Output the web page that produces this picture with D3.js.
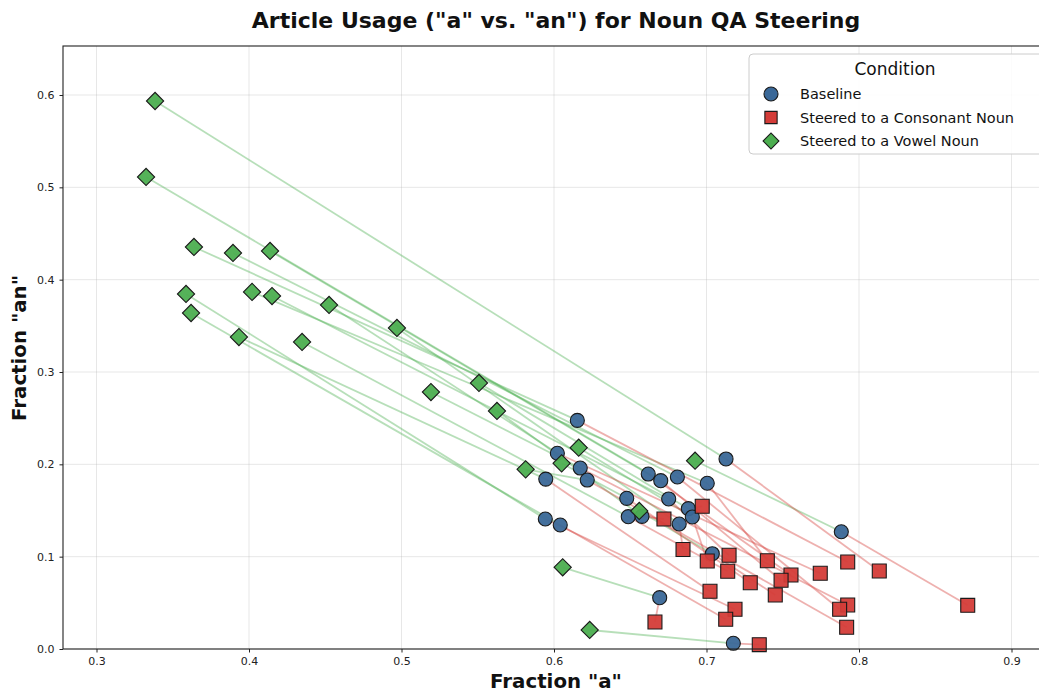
<!DOCTYPE html>
<html>
<head>
<meta charset="utf-8">
<script src="https://cdn.jsdelivr.net/npm/d3@7"></script>
<style>
  html, body { margin: 0; padding: 0; background: #fff; }
  svg { display: block; font-family: "DejaVu Sans", sans-serif; }
</style>
</head>
<body>
<svg id="chart" width="1039" height="692"></svg>
<script>
// ---- Data (one entry per noun) ----
const baselineA   = [0.6153,0.6022,0.7128,0.6172,0.5946,0.6218,0.6618,0.6700,0.6809,0.7005,0.6752,0.6477,0.6881,0.6907,0.6487,0.6577,0.6821,0.5943,0.6041,0.7038,0.6693,0.7176,0.7884];
const baselineAn  = [0.2476,0.2120,0.2058,0.1960,0.1840,0.1830,0.1895,0.1823,0.1863,0.1795,0.1625,0.1632,0.1520,0.1430,0.1433,0.1437,0.1354,0.1408,0.1343,0.1032,0.0556,0.0062,0.1270];
const consonantA  = [0.7926,0.7746,0.8133,0.7926,0.7023,0.7919,0.7554,0.7489,0.7873,0.7399,0.7148,0.7287,0.6972,0.7005,0.7139,0.6721,0.6846,0.7187,0.7126,0.7451,0.6662,0.7346,0.8713];
const consonantAn = [0.0942,0.0820,0.0845,0.0477,0.0625,0.0235,0.0801,0.0744,0.0430,0.0956,0.1015,0.0718,0.1546,0.0953,0.0842,0.1408,0.1078,0.0430,0.0322,0.0585,0.0292,0.0047,0.0473];
const vowelA      = [0.3639,0.4525,0.3384,0.5193,0.3934,0.5814,0.4138,0.3325,0.3895,0.4020,0.4151,0.6050,0.5508,0.6162,0.4348,0.5626,0.4970,0.3587,0.3620,0.6559,0.6057,0.6234,0.6925];
const vowelAn     = [0.4354,0.3726,0.5935,0.2783,0.3379,0.1946,0.4311,0.5112,0.4289,0.3867,0.3823,0.2011,0.2881,0.2180,0.3325,0.2578,0.3477,0.3845,0.3639,0.1495,0.0885,0.0206,0.2039];

const xTicks = [0.3,0.4,0.5,0.6,0.7,0.8,0.9];
const yTicks = [0.0,0.1,0.2,0.3,0.4,0.5,0.6];
const conditions = ["Baseline","Steered to a Consonant Noun","Steered to a Vowel Noun"];
const titleText = 'Article Usage ("a" vs. "an") for Noun QA Steering';
const xLabel = 'Fraction "a"';
const yLabel = 'Fraction "an"';

// ---- Layout ----
const svg = d3.select("#chart");
const plot = {left: 63, top: 46, right: 1046, bottom: 649};
const x = d3.scaleLinear().domain([0.3, 0.9]).range([96.5, 1011.5]);
const y = d3.scaleLinear().domain([0.0, 0.6]).range([649, 95]);

const colBlue = "#3a6898", colRed = "#d43c38", colGreen = "#4cae50";

// grid
const grid = svg.append("g");
xTicks.forEach(t => grid.append("line")
  .attr("x1", x(t)).attr("x2", x(t)).attr("y1", plot.top).attr("y2", plot.bottom)
  .attr("stroke", "#b0b0b0").attr("stroke-opacity", 0.3).attr("stroke-width", 1));
yTicks.forEach(t => grid.append("line")
  .attr("x1", plot.left).attr("x2", plot.right).attr("y1", y(t)).attr("y2", y(t))
  .attr("stroke", "#b0b0b0").attr("stroke-opacity", 0.3).attr("stroke-width", 1));

// connecting lines
const idx = d3.range(baselineA.length);
const lines = svg.append("g");
idx.forEach(i => {
  lines.append("line")
    .attr("x1", x(baselineA[i])).attr("y1", y(baselineAn[i]))
    .attr("x2", x(vowelA[i])).attr("y2", y(vowelAn[i]))
    .attr("stroke", "#4cae50").attr("stroke-opacity", 0.4).attr("stroke-width", 1.8);
});
idx.forEach(i => {
  lines.append("line")
    .attr("x1", x(baselineA[i])).attr("y1", y(baselineAn[i]))
    .attr("x2", x(consonantA[i])).attr("y2", y(consonantAn[i]))
    .attr("stroke", "#d43c38").attr("stroke-opacity", 0.4).attr("stroke-width", 1.8);
});

// markers
const sym = {
  circle: d3.symbol().type(d3.symbolCircle).size(155),
  square: d3.symbol().type(d3.symbolSquare).size(195),
  diamond: d3.symbol().type(d3.symbolSquare).size(148)
};
const marks = svg.append("g");
marks.selectAll("path.base").data(idx).join("path").attr("class","base")
  .attr("d", sym.circle)
  .attr("transform", i => `translate(${x(baselineA[i])},${y(baselineAn[i])})`)
  .attr("fill", colBlue).attr("fill-opacity", 0.95).attr("stroke", "#1a1a1a").attr("stroke-width", 1.1);
marks.selectAll("path.cons").data(idx).join("path").attr("class","cons")
  .attr("d", sym.square)
  .attr("transform", i => `translate(${x(consonantA[i])},${y(consonantAn[i])})`)
  .attr("fill", colRed).attr("fill-opacity", 0.95).attr("stroke", "#1a1a1a").attr("stroke-width", 1.1);
marks.selectAll("path.vow").data(idx).join("path").attr("class","vow")
  .attr("d", sym.diamond)
  .attr("transform", i => `translate(${x(vowelA[i])},${y(vowelAn[i])}) rotate(45)`)
  .attr("fill", colGreen).attr("fill-opacity", 0.95).attr("stroke", "#1a1a1a").attr("stroke-width", 1.1);

// frame
svg.append("rect").attr("x", plot.left).attr("y", plot.top)
  .attr("width", plot.right - plot.left).attr("height", plot.bottom - plot.top)
  .attr("fill", "none").attr("stroke", "#222").attr("stroke-width", 1.1);

// axes
const xAxis = svg.append("g").attr("transform", `translate(0,${plot.bottom})`)
  .call(d3.axisBottom(x).tickValues(xTicks).tickFormat(d3.format(".1f")).tickSize(3.5).tickPadding(5));
const yAxis = svg.append("g").attr("transform", `translate(${plot.left},0)`)
  .call(d3.axisLeft(y).tickValues(yTicks).tickFormat(d3.format(".1f")).tickSize(3.5).tickPadding(5));
[xAxis, yAxis].forEach(a => {
  a.select(".domain").remove();
  a.selectAll("text").attr("font-family", "DejaVu Sans").attr("font-size", 11).attr("fill", "#222");
  a.selectAll("line").attr("stroke", "#222");
});

// titles
svg.append("text").attr("x", 556).attr("y", 28).attr("text-anchor", "middle")
  .attr("font-size", 22).attr("font-weight", "bold").attr("fill", "#111").text(titleText);
svg.append("text").attr("x", 556).attr("y", 688).attr("text-anchor", "middle")
  .attr("font-size", 19.8).attr("font-weight", "bold").attr("fill", "#111").text(xLabel);
svg.append("text").attr("transform", "translate(26,348) rotate(-90)").attr("text-anchor", "middle")
  .attr("font-size", 19.8).attr("font-weight", "bold").attr("fill", "#111").text(yLabel);

// legend
const lg = svg.append("g");
lg.append("rect").attr("x", 749).attr("y", 54).attr("width", 310).attr("height", 100).attr("rx", 4)
  .attr("fill", "#fff").attr("fill-opacity", 0.85).attr("stroke", "#cccccc").attr("stroke-width", 1);
lg.append("text").attr("x", 895).attr("y", 75).attr("text-anchor", "middle")
  .attr("font-size", 17).attr("fill", "#111").text("Condition");
const legSyms = [
  {d: sym.circle, fill: colBlue, rot: 0},
  {d: d3.symbol().type(d3.symbolSquare).size(150), fill: colRed, rot: 0},
  {d: d3.symbol().type(d3.symbolSquare).size(125), fill: colGreen, rot: 45}
];
conditions.forEach((c, k) => {
  const yy = 94 + k * 23.5;
  lg.append("path").attr("d", legSyms[k].d)
    .attr("transform", `translate(771,${yy}) rotate(${legSyms[k].rot})`)
    .attr("fill", legSyms[k].fill).attr("stroke", "#1a1a1a").attr("stroke-width", 1.1);
  lg.append("text").attr("x", 800).attr("y", yy + 5).attr("font-size", 14.5).attr("fill", "#111").text(c);
});
</script>
</body>
</html>
